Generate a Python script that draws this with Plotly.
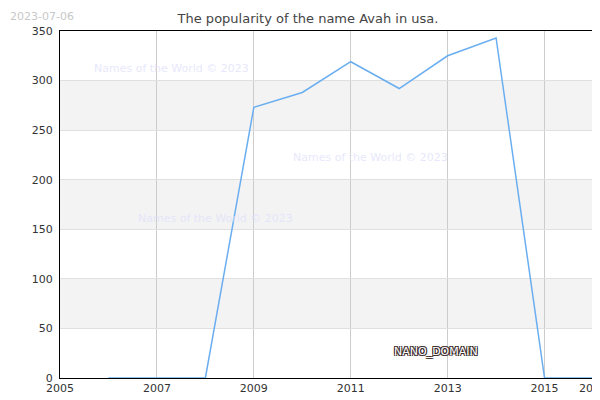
import plotly.graph_objects as go

years = [2006, 2007, 2008, 2009, 2010, 2011, 2012, 2013, 2014, 2015, 2016]
counts = [0, 0, 0, 273, 288, 319, 292, 325, 343, 0, 0]
x_ticks = [2005, 2007, 2009, 2011, 2013, 2015, 2016]
y_ticks = [0, 50, 100, 150, 200, 250, 300, 350]
bands = [(50, 100), (150, 200), (250, 300)]

fig = go.Figure()
fig.add_trace(go.Scatter(x=years, y=counts, mode='lines',
                         line=dict(color='#6aaef0', width=1.5), hoverinfo='x+y'))

for lo, hi in bands:
    fig.add_shape(type='rect', xref='paper', x0=0, x1=1, yref='y', y0=lo, y1=hi,
                  fillcolor='#f3f3f3', line_width=0, layer='below')

wm = dict(font=dict(family='DejaVu Sans', size=11, color='rgba(225,225,250,0.8)'),
          showarrow=False, xref='x', yref='y')
fig.add_annotation(x=2007.3, y=312, text='Names of the World © 2023', **wm)
fig.add_annotation(x=2011.4, y=222, text='Names of the World © 2023', **wm)
fig.add_annotation(x=2008.2, y=161, text='Names of the World © 2023', **wm)
fig.add_annotation(x=2012.75, y=27, text='NANO_DOMAIN', showarrow=False,
                   font=dict(family='DejaVu Sans', size=11, color='#ffffff',
                             shadow='1px 1px 0 #3a2a2a, -1px -1px 0 #3a2a2a, 1px -1px 0 #3a2a2a, -1px 1px 0 #3a2a2a'))
fig.add_annotation(x=0, y=1, xref='paper', yref='paper', xanchor='left', yanchor='top',
                   xshift=-52, yshift=23, text='2023-07-06', showarrow=False,
                   font=dict(family='DejaVu Sans', size=11, color='#c8c8c8'))

fig.update_layout(
    width=600, height=400,
    margin=dict(l=52, r=15, t=23, b=30, autoexpand=False),
    plot_bgcolor='white', paper_bgcolor='white',
    showlegend=False,
    font=dict(family='DejaVu Sans', size=11, color='#333'),
    title=dict(text='The popularity of the name Avah in usa.', x=0.5, xanchor='center',
               y=0.985, yanchor='top', font=dict(size=13, color='#444')),
)
fig.update_xaxes(range=[2005, 2016], tickvals=x_ticks, showgrid=True, gridcolor='#cccccc',
                 zeroline=False, showline=True, linecolor='black', mirror=True, ticks='',
                 automargin=False)
fig.update_yaxes(range=[0, 350], tickvals=y_ticks, showgrid=True, gridcolor='#e0e0e0',
                 zeroline=False, showline=True, linecolor='black', mirror=True, ticks='',
                 automargin=False, ticklabelstandoff=4)

fig.write_html('out.html')
